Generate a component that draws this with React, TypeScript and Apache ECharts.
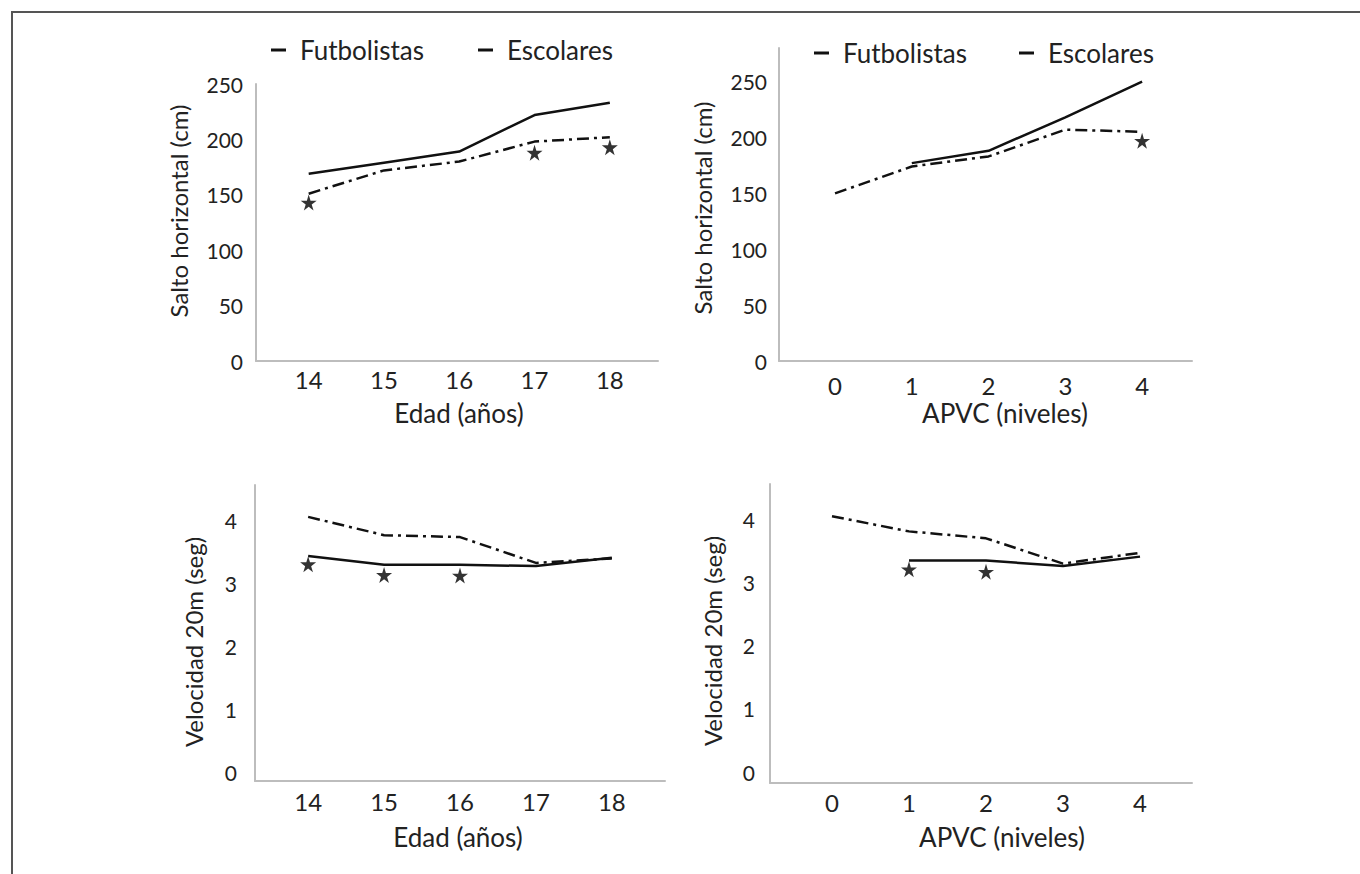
import React, { useEffect, useRef } from "react";
import * as echarts from "echarts";

// Categories / tick labels
const edad = [14, 15, 16, 17, 18];
const apvc = [0, 1, 2, 3, 4];
const saltoTicks = [0, 50, 100, 150, 200, 250];
const velTicks = [0, 1, 2, 3, 4];

// Salto horizontal (cm) vs Edad
const saltoEdadFut = [169, 179, 189, 222, 233];
const saltoEdadEsc = [151, 172, 180, 198, 202];
const saltoEdadStarX = [14, 17, 18];
const saltoEdadStarY = [143, 188, 193];

// Salto horizontal (cm) vs APVC
const saltoApvcFut = [null, 177, 188, 218, 250];
const saltoApvcEsc = [150, 174, 183, 207, 205];
const saltoApvcStarX = [4];
const saltoApvcStarY = [197];

// Velocidad 20m (seg) vs Edad
const velEdadFut = [3.43, 3.29, 3.29, 3.27, 3.4];
const velEdadEsc = [4.05, 3.76, 3.73, 3.32, 3.39];
const velEdadStarX = [14, 15, 16];
const velEdadStarY = [3.3, 3.13, 3.12];

// Velocidad 20m (seg) vs APVC
const velApvcFut = [null, 3.35, 3.35, 3.26, 3.41];
const velApvcEsc = [4.05, 3.81, 3.7, 3.3, 3.47];
const velApvcStarX = [1, 2];
const velApvcStarY = [3.21, 3.17];

const FONT = "Lato, 'Open Sans', sans-serif";
const TXT = "#222222";
const AX = "#bdbdbd";
const INK = "#111111";
const STAR =
  "path://M50,0 L61,35 L98,35 L68,57 L79,91 L50,70 L21,91 L32,57 L2,35 L39,35 Z";

const zip = (xs: number[], ys: (number | null)[]) =>
  xs.map((x, i) => [x, ys[i]]).filter((p) => p[1] !== null);

export default function App() {
  const ref = useRef<HTMLDivElement>(null);
  useEffect(() => {
    if (!ref.current) return;
    const chart = echarts.init(ref.current, undefined, { renderer: "svg" });

    const xAx = (
      gi: number,
      min: number,
      max: number,
      ticks: number[],
      margin: number
    ) => ({
      type: "value",
      gridIndex: gi,
      min,
      max,
      axisLine: { show: true, onZero: false, lineStyle: { color: AX, width: 2 } },
      axisTick: { show: false },
      splitLine: { show: false },
      axisLabel: {
        customValues: ticks,
        fontSize: 24,
        fontFamily: FONT,
        color: TXT,
        margin,
      },
    });

    const yAx = (
      gi: number,
      min: number,
      max: number,
      ticks: number[],
      margin: number
    ) => ({
      type: "value",
      gridIndex: gi,
      min,
      max,
      axisLine: { show: true, onZero: false, lineStyle: { color: AX, width: 2 } },
      axisTick: { show: false },
      splitLine: { show: false },
      axisLabel: {
        customValues: ticks,
        fontSize: 21,
        fontFamily: FONT,
        color: TXT,
        margin,
      },
    });

    const fut = (i: number, xs: number[], ys: (number | null)[]) => ({
      type: "line",
      name: "Futbolistas",
      xAxisIndex: i,
      yAxisIndex: i,
      data: zip(xs, ys),
      symbol: "none",
      itemStyle: { color: INK },
      lineStyle: { color: INK, width: 2.5 },
    });
    const esc = (i: number, xs: number[], ys: (number | null)[]) => ({
      type: "line",
      name: "Escolares",
      xAxisIndex: i,
      yAxisIndex: i,
      data: zip(xs, ys),
      symbol: "none",
      itemStyle: { color: INK },
      lineStyle: { color: INK, width: 2.5, type: [12, 5, 3, 5] },
    });
    const stars = (i: number, xs: number[], ys: number[]) => ({
      type: "scatter",
      name: "p",
      xAxisIndex: i,
      yAxisIndex: i,
      data: zip(xs, ys),
      symbol: STAR,
      symbolSize: 16,
      itemStyle: { color: "#000" },
    });

    const legend = (left: number, top: number, gap: number) => ({
      left,
      top,
      data: ["Futbolistas", "Escolares"],
      icon: "rect",
      itemWidth: 15,
      itemHeight: 3,
      itemGap: gap,
      selectedMode: false,
      textStyle: {
        fontSize: 26,
        fontFamily: FONT,
        color: TXT,
        padding: [0, 0, 0, 9],
      },
    });

    const title = (x: number, y: number, text: string, rot: number, size: number) => ({
      type: "text",
      x,
      y,
      rotation: rot,
      style: {
        text,
        font: `${size}px ${FONT}`,
        fill: TXT,
        align: "center",
        verticalAlign: "middle",
      },
    });

    chart.setOption({
      animation: false,
      backgroundColor: "#ffffff",
      grid: [
        { left: 256, top: 84, width: 402, height: 277 },
        { left: 779, top: 48, width: 413, height: 313 },
        { left: 255, top: 485, width: 410, height: 296 },
        { left: 770, top: 484, width: 422, height: 299 },
      ],
      legend: [legend(266, 32, 54), legend(809, 35, 52)],
      xAxis: [
        xAx(0, 13.3, 18.64, edad, 6),
        xAx(1, -0.73, 4.65, apvc, 12),
        xAx(2, 13.3, 18.7, edad, 8),
        xAx(3, -0.805, 4.675, apvc, 7),
      ],
      yAxis: [
        yAx(0, 0, 250, saltoTicks, 13),
        yAx(1, 0, 280, saltoTicks, 12),
        yAx(2, -0.14, 4.556, velTicks, 18),
        yAx(3, -0.174, 4.56, velTicks, 15),
      ],
      series: [
        fut(0, edad, saltoEdadFut),
        esc(0, edad, saltoEdadEsc),
        stars(0, saltoEdadStarX, saltoEdadStarY),
        fut(1, apvc, saltoApvcFut),
        esc(1, apvc, saltoApvcEsc),
        stars(1, saltoApvcStarX, saltoApvcStarY),
        fut(2, edad, velEdadFut),
        esc(2, edad, velEdadEsc),
        stars(2, velEdadStarX, velEdadStarY),
        fut(3, apvc, velApvcFut),
        esc(3, apvc, velApvcEsc),
        stars(3, velApvcStarX, velApvcStarY),
      ],
      graphic: [
        {
          type: "polyline",
          shape: { points: [[12, 874], [12, 12], [1360, 12]] },
          style: { stroke: "#555555", lineWidth: 2, fill: null },
        },
        title(178, 211, "Salto horizontal (cm)", Math.PI / 2, 24),
        title(702, 208, "Salto horizontal (cm)", Math.PI / 2, 24),
        title(193, 642, "Velocidad 20m (seg)", Math.PI / 2, 24),
        title(712, 641, "Velocidad 20m (seg)", Math.PI / 2, 24),
        title(459, 413, "Edad (años)", 0, 26),
        title(1005, 413, "APVC (niveles)", 0, 26),
        title(458, 837, "Edad (años)", 0, 26),
        title(1002, 837, "APVC (niveles)", 0, 26),
      ],
    });
    return () => chart.dispose();
  }, []);
  return (
    <div
      ref={ref}
      style={{ position: "absolute", left: 0, top: 0, width: 1360, height: 874 }}
    />
  );
}
